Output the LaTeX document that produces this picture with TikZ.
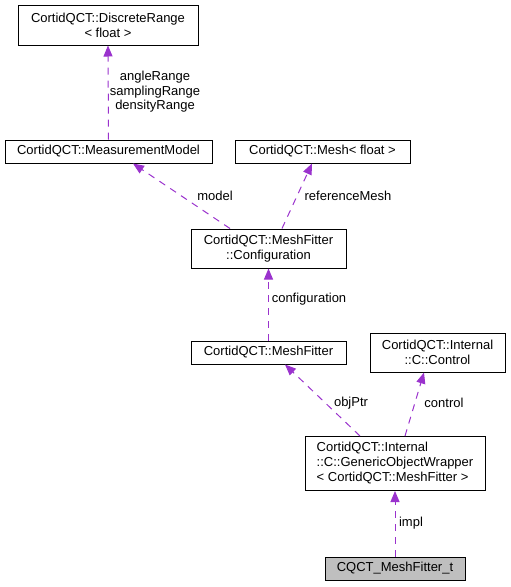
\documentclass[tikz,border=0pt]{standalone}
\usepackage{fontspec}
\setmainfont{Liberation Sans}
\usetikzlibrary{arrows.meta}
\definecolor{dep}{HTML}{9A32CD}
\definecolor{hl}{HTML}{BFBFBF}
\begin{document}
\begin{tikzpicture}[x=1pt,y=-1pt,
  box/.style={draw=black,line width=1pt,inner sep=0pt,font=\fontsize{13}{15}\selectfont,align=center},
  depline/.style={draw=dep,line width=1pt,dash pattern=on 7pt off 6pt,-{Triangle[length=11pt,width=9pt,fill=dep]}},
  lbl/.style={font=\fontsize{13}{14.5}\selectfont,align=center,inner sep=0pt}]
\useasboundingbox (0,0) rectangle (511,587);
\node[box,minimum width=180pt,minimum height=40pt] (dr) at (108,25) {CortidQCT::DiscreteRange\\\textless{} float \textgreater};
\node[box,minimum width=207pt,minimum height=23pt] (mm) at (108.5,151.5) {CortidQCT::MeasurementModel};
\node[box,minimum width=175pt,minimum height=23pt] (mesh) at (322.5,151.5) {CortidQCT::Mesh\textless{} float \textgreater};
\node[box,minimum width=155pt,minimum height=39pt] (cfg) at (268.5,248.5) {CortidQCT::MeshFitter\\::Configuration};
\node[box,minimum width=155pt,minimum height=23pt] (mf) at (268.5,352.5) {CortidQCT::MeshFitter};
\node[box,minimum width=135pt,minimum height=39pt] (ctrl) at (437.5,352.5) {CortidQCT::Internal\\::C::Control};
\node[box,minimum width=180pt,minimum height=54pt,align=left] (gow) at (395,463.5) {CortidQCT::Internal\\::C::GenericObjectWrapper\\\textless{} CortidQCT::MeshFitter \textgreater};
\node[box,fill=hl,minimum width=140pt,minimum height=23pt] (cq) at (395,568.5) {CQCT\_MeshFitter\_t};

\draw[depline] (mm.north) -- (dr.south);
\draw[depline] (cfg.north -| 230,0) -- (mm.south -| 133,0);
\draw[depline] (cfg.north -| 282,0) -- (mesh.south -| 312,0);
\draw[depline] (mf.north) -- (cfg.south);
\draw[depline] (gow.north -| 360,0) -- (mf.south -| 285,0);
\draw[depline] (gow.north -| 405,0) -- (ctrl.south -| 424,0);
\draw[depline] (cq.north) -- (gow.south);

\node[lbl] (l1) at (155,92) {angleRange\\samplingRange\\densityRange};
\node[lbl] (l2) at (215,196) {model};
\node[lbl] (l3) at (348,196) {referenceMesh};
\node[lbl] (l4) at (309,299) {configuration};
\node[lbl] (l5) at (351,403) {objPtr};
\node[lbl] (l6) at (444,403) {control};
\node[lbl] (l7) at (411,523) {impl};
\end{tikzpicture}
\end{document}
